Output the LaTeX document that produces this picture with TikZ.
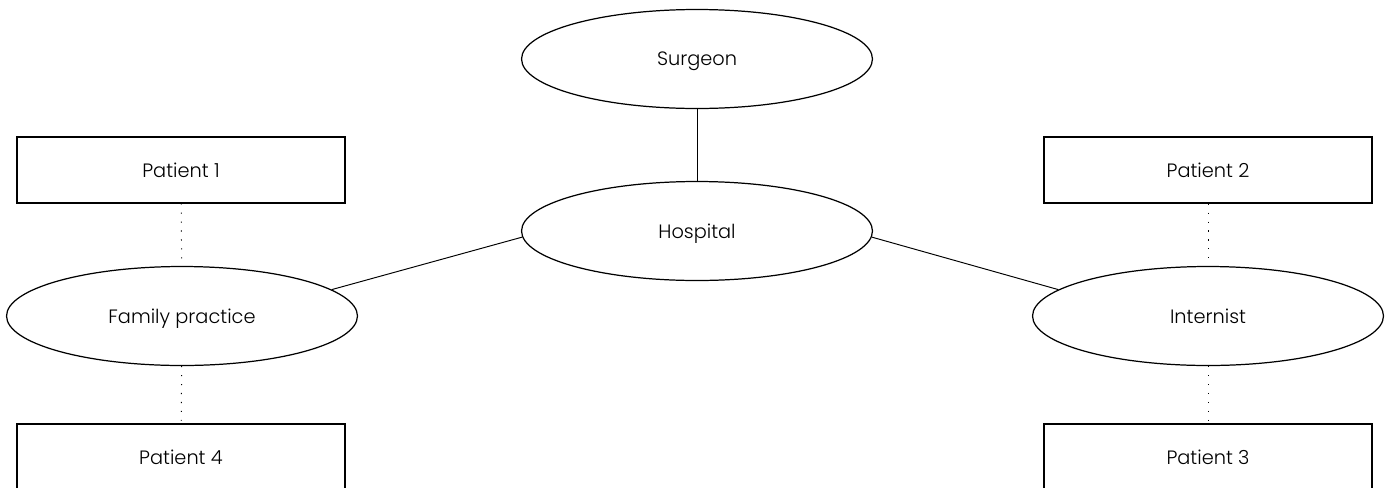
\documentclass[tikz,border=0pt]{standalone}
\usepackage{fontspec}
\setmainfont{Poppins}[UprightFont=* Light]
\usetikzlibrary{shapes.geometric, positioning}
\tikzstyle{party} = [ellipse, draw, line width=0.7pt, minimum width=7.02cm, minimum height=1.98cm, inner sep=0pt, text depth=0pt]
\tikzstyle{patient} = [rectangle, draw, line width=0.7pt, minimum width=6.56cm, minimum height=1.32cm, inner sep=0pt, text depth=0pt]
\tikzstyle{link} = [line width=0.55pt]
\tikzstyle{referral} = [line width=0.55pt, dash pattern=on 0.6pt off 4.5pt]

\begin{document}
\begin{tikzpicture}[x=0.02cm, y=-0.02cm, font=\fontsize{11}{13}\selectfont]
        \useasboundingbox (0,0) rectangle (1388,487);
        \clip (0,0) rectangle (1388,487);
        % Providers
        \node (surgeon) [party] at (697,59) {Surgeon};
        \node (hospital) [party] at (697,231) {Hospital};
        \node (family) [party] at (182,316) {Family practice};
        \node (internist) [party] at (1208,316) {Internist};
        % Patients
        \node (p1) [patient] at (181,170) {Patient 1};
        \node (p2) [patient] at (1208,170) {Patient 2};
        \node (p3) [patient] at (1208,457) {Patient 3};
        \node (p4) [patient] at (181,457) {Patient 4};
        % Links
        \draw [link] (surgeon) -- (hospital);
        \draw [link] (hospital.182) -- (family.10);
        \draw [link] (hospital.358) -- (internist.170);
        \draw [referral] (p1) -- (family);
        \draw [referral] (family) -- (p4);
        \draw [referral] (p2) -- (internist);
        \draw [referral] (internist) -- (p3);
        \end{tikzpicture}
\end{document}
